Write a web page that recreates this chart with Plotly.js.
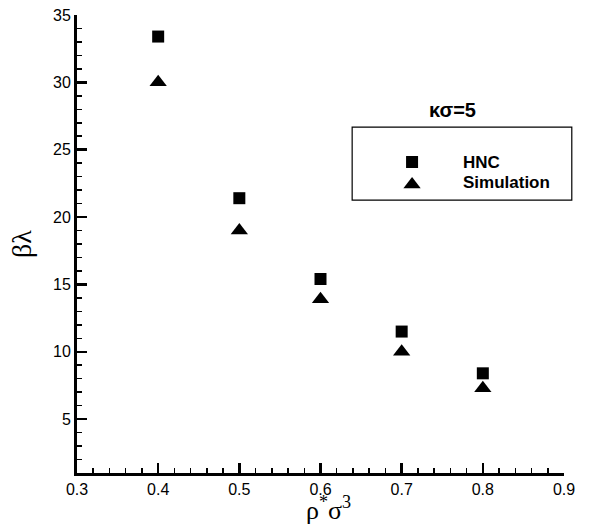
<!DOCTYPE html>
<html>
<head>
<meta charset="utf-8">
<script src="https://cdn.plot.ly/plotly-3.0.1.min.js"></script>
<style>html,body{margin:0;padding:0;background:#fff;}#chart{width:602px;height:524px;}</style>
</head>
<body>
<div id="chart"></div>
<script>
const density = [0.4, 0.5, 0.6, 0.7, 0.8];
const hncValues = [33.4, 21.4, 15.4, 11.5, 8.4];
const simulationValues = [30, 19, 13.9, 10, 7.3];
const seriesNames = ['HNC', 'Simulation'];
const xTickVals = [0.3, 0.4, 0.5, 0.6, 0.7, 0.8, 0.9];
const yTickVals = [5, 10, 15, 20, 25, 30, 35];

const traces = [
  {x: density, y: hncValues, type: 'scatter', mode: 'markers', name: seriesNames[0],
   marker: {symbol: 'square', size: 12, color: '#000'}, showlegend: false},
  {x: density, y: simulationValues, type: 'scatter', mode: 'markers', name: seriesNames[1],
   marker: {symbol: 'triangle-up', size: 15, color: '#000'}, showlegend: false},
  // legend keys on an invisible overlay axis (0..1 across the plot area)
  {x: [0.688], y: [0.679], xaxis: 'x2', yaxis: 'y2', type: 'scatter', mode: 'markers',
   marker: {symbol: 'square', size: 12, color: '#000'}, showlegend: false, hoverinfo: 'skip'},
  {x: [0.688], y: [0.630], xaxis: 'x2', yaxis: 'y2', type: 'scatter', mode: 'markers',
   marker: {symbol: 'triangle-up', size: 15, color: '#000'}, showlegend: false, hoverinfo: 'skip'}
];

const tickFont = {family: 'Liberation Sans, Arial, sans-serif', size: 16, color: '#000'};

const layout = {
  width: 602, height: 524,
  margin: {l: 77, r: 38, t: 15, b: 51},
  paper_bgcolor: '#fff', plot_bgcolor: '#fff',
  showlegend: false,
  xaxis: {
    range: [0.3, 0.9], tickvals: xTickVals, ticktext: xTickVals.map(v => v.toFixed(1)),
    ticks: 'inside', ticklen: 10, tickwidth: 2.5, tickcolor: '#000',
    minor: {dtick: 0.02, ticks: 'inside', ticklen: 5, tickwidth: 1.5, tickcolor: '#000'},
    showline: true, linewidth: 3, linecolor: '#000', showgrid: false, zeroline: false,
    tickfont: tickFont
  },
  yaxis: {
    range: [1, 35], tickvals: yTickVals,
    ticks: 'inside', ticklen: 10, tickwidth: 2.5, tickcolor: '#000',
    minor: {dtick: 1, ticks: 'inside', ticklen: 5, tickwidth: 1.5, tickcolor: '#000'},
    showline: true, linewidth: 3, linecolor: '#000', showgrid: false, zeroline: false,
    tickfont: tickFont,
    title: {text: 'βλ', font: {family: 'Liberation Serif, DejaVu Serif, serif', size: 28, color: '#000'}, standoff: 14}
  },
  xaxis2: {overlaying: 'x', range: [0, 1], visible: false, fixedrange: true},
  yaxis2: {overlaying: 'y', range: [0, 1], visible: false, fixedrange: true},
  shapes: [
    {type: 'rect', xref: 'paper', yref: 'paper', x0: 0.565, x1: 1.016, y0: 0.596, y1: 0.755,
     line: {color: '#000', width: 1.2}, fillcolor: 'rgba(0,0,0,0)'}
  ],
  annotations: [
    {xref: 'paper', yref: 'paper', x: 0.517, y: -0.117, text: 'ρ<sup>*</sup>σ<sup>3</sup>', showarrow: false,
     font: {family: 'Liberation Serif, DejaVu Serif, serif', size: 26, color: '#000'}, xanchor: 'center', yanchor: 'bottom'},
    {xref: 'paper', yref: 'paper', x: 0.772, y: 0.793, text: '<b>κσ=5</b>', showarrow: false,
     font: {family: 'Liberation Sans, Arial, sans-serif', size: 20, color: '#000'}, xanchor: 'center', yanchor: 'middle'},
    {xref: 'paper', yref: 'paper', x: 0.789, y: 0.679, text: '<b>' + seriesNames[0] + '</b>', showarrow: false,
     font: {family: 'Liberation Sans, Arial, sans-serif', size: 17, color: '#000'}, xanchor: 'left', yanchor: 'middle'},
    {xref: 'paper', yref: 'paper', x: 0.789, y: 0.635, text: '<b>' + seriesNames[1] + '</b>', showarrow: false,
     font: {family: 'Liberation Sans, Arial, sans-serif', size: 17, color: '#000'}, xanchor: 'left', yanchor: 'middle'}
  ]
};

Plotly.newPlot('chart', traces, layout, {displayModeBar: false, staticPlot: true});
</script>
</body>
</html>
